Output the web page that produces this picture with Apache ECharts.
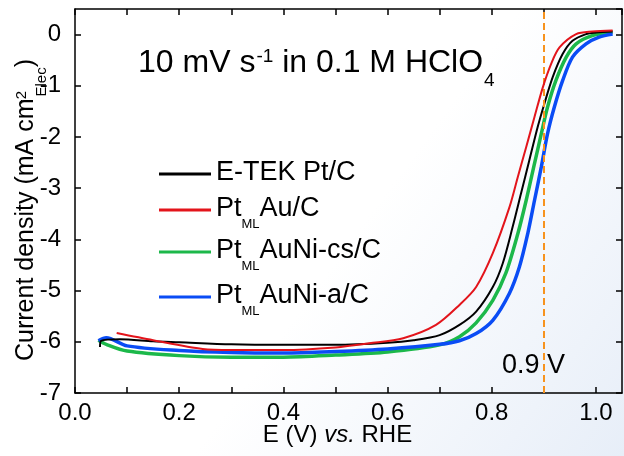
<!DOCTYPE html>
<html><head><meta charset="utf-8">
<script src="https://cdn.jsdelivr.net/npm/echarts@6/dist/echarts.min.js"></script>
<style>html,body{margin:0;padding:0;background:#fff}#c{width:624px;height:456px}</style>
</head><body><div id="c"></div>
<script>
const FONT = "'Liberation Sans', Arial, sans-serif";

// ---- data ----
const seriesNames = ['E-TEK Pt/C', 'PtMLAu/C', 'PtMLAuNi-cs/C', 'PtMLAuNi-a/C'];
const legendLabels = ['{a|E-TEK Pt/C}', '{a|Pt}{s|ML}{a|Au/C}', '{a|Pt}{s|ML}{a|AuNi-cs/C}', '{a|Pt}{s|ML}{a|AuNi-a/C}'];
const seriesColors = ['#000000', '#e3141b', '#1cb84a', '#0a4cf5'];

const etekX = [0.048, 0.05, 0.086, 0.15, 0.2, 0.3, 0.4, 0.5, 0.6, 0.65, 0.7, 0.738, 0.77, 0.802, 0.821, 0.84, 0.856, 0.872, 0.888, 0.901, 0.917, 0.936, 0.955, 0.981, 1.0, 1.032];
const etekY = [-6.10, -5.98, -5.95, -5.99, -6.01, -6.05, -6.06, -6.06, -6.02, -5.97, -5.87, -5.67, -5.41, -4.93, -4.47, -3.76, -3.11, -2.46, -1.81, -1.35, -0.83, -0.38, -0.12, 0.01, 0.04, 0.06];

const auX = [0.08, 0.15, 0.245, 0.3, 0.4, 0.5, 0.565, 0.63, 0.693, 0.738, 0.77, 0.802, 0.834, 0.85, 0.866, 0.882, 0.898, 0.914, 0.93, 0.962, 0.993, 1.032];
const auY = [-5.83, -5.97, -6.14, -6.16, -6.16, -6.11, -6.03, -5.93, -5.67, -5.28, -4.93, -4.27, -3.37, -2.78, -2.20, -1.61, -1.03, -0.57, -0.25, 0.01, 0.06, 0.08];

const csX = [0.045, 0.06, 0.1, 0.2, 0.3, 0.4, 0.5, 0.6, 0.7, 0.738, 0.77, 0.802, 0.827, 0.85, 0.866, 0.882, 0.895, 0.907, 0.923, 0.943, 0.962, 0.993, 1.032];
const csY = [-5.97, -6.05, -6.18, -6.27, -6.30, -6.30, -6.26, -6.20, -6.06, -5.90, -5.63, -5.19, -4.66, -3.89, -3.24, -2.52, -1.94, -1.42, -0.90, -0.44, -0.18, -0.02, 0.05];

const aX = [0.045, 0.06, 0.1, 0.2, 0.3, 0.4, 0.5, 0.6, 0.7, 0.738, 0.77, 0.802, 0.834, 0.853, 0.869, 0.882, 0.895, 0.907, 0.92, 0.936, 0.955, 0.981, 1.006, 1.032];
const aY = [-5.98, -5.92, -6.08, -6.17, -6.21, -6.22, -6.19, -6.14, -6.05, -5.98, -5.84, -5.58, -5.05, -4.54, -3.89, -3.24, -2.59, -1.94, -1.42, -0.90, -0.44, -0.18, -0.05, 0.01];

const refPotential = 0.9;
const refLabel = '0.9 V';

const pairs = (xs, ys) => xs.map((x, i) => [x, ys[i]]);
const seriesData = [pairs(etekX, etekY), pairs(auX, auY), pairs(csX, csY), pairs(aX, aY)];
const lineWidths = [2, 2, 3.5, 3.5];
const zs = [4, 5, 2, 3];

const chart = echarts.init(document.getElementById('c'), null, {renderer: 'canvas'});

const axisLine = {show: true, onZero: false, lineStyle: {color: '#000', width: 1.5}};
const tick = {show: true, inside: true, length: 6, lineStyle: {color: '#000', width: 1.5}};

const legendTops = [159, 195, 237, 282];

const series = seriesNames.map((n, i) => ({
  name: n, type: 'line', data: seriesData[i], showSymbol: false, symbol: 'none',
  smooth: 0.3,
  lineStyle: {color: seriesColors[i], width: lineWidths[i]}, itemStyle: {color: seriesColors[i]},
  z: zs[i], silent: true, animation: false
}));
series[0].markLine = {
  silent: true, symbol: 'none', animation: false,
  data: [{xAxis: refPotential}],
  lineStyle: {color: '#f7931e', type: [7, 4], width: 2},
  label: {show: false}
};
series[0].markPoint = {
  silent: true, animation: false, symbol: 'circle', symbolSize: 1,
  itemStyle: {color: 'rgba(0,0,0,0)'},
  data: [{coord: [0.88, -6.47]}],
  label: {show: true, position: 'inside', formatter: refLabel, fontSize: 27, color: '#000', fontFamily: FONT}
};

const option = {
  animation: false,
  backgroundColor: {type: 'linear', x: 0, y: 0, x2: 1, y2: 1, colorStops: [
    {offset: 0, color: '#ffffff'}, {offset: 0.55, color: '#ffffff'}, {offset: 1, color: '#e7eef8'}]},
  textStyle: {fontFamily: FONT},
  title: {
    text: '{a|10 mV s}{sup|-1}{a| in 0.1 M HClO}{sub|4}',
    left: 138, top: 47, padding: 0,
    textStyle: {fontWeight: 'normal', rich: {
      a: {fontSize: 32, fontWeight: 'normal', color: '#000', fontFamily: FONT, lineHeight: 40, verticalAlign: 'top'},
      sup: {fontSize: 19, fontWeight: 'normal', color: '#000', fontFamily: FONT, lineHeight: 20, verticalAlign: 'top', padding: [0, 0, 0, 1]},
      sub: {fontSize: 19, fontWeight: 'normal', color: '#000', fontFamily: FONT, lineHeight: 20, verticalAlign: 'top', padding: [24, 0, 0, 1]}
    }}
  },
  legend: seriesNames.map((n, i) => ({
    data: [n], left: 159, top: legendTops[i], padding: 0, itemGap: 0,
    icon: 'rect', itemWidth: 52, itemHeight: 3, selectedMode: false,
    formatter: () => legendLabels[i],
    textStyle: {rich: {
      a: {fontSize: 27, color: '#000', fontFamily: FONT, lineHeight: 30, verticalAlign: 'top'},
      s: {fontSize: 13, color: '#000', fontFamily: FONT, lineHeight: 13, verticalAlign: 'top', padding: [23, 0, 0, 0]}
    }}
  })),
  grid: {left: 75, right: 2, top: 9, bottom: 63, outerBoundsMode: 'none'},
  xAxis: [
    {type: 'value', min: 0, max: 1.05, interval: 0.1, position: 'bottom',
     axisLine, axisTick: tick, splitLine: {show: false},
     axisLabel: {fontSize: 24, color: '#000', margin: 8, fontFamily: FONT, showMaxLabel: false, showMinLabel: true,
       formatter: v => (Math.round(v * 10) % 2 === 0 ? v.toFixed(1) : '')},
     name: '{a|E (V) }{i|vs.}{a| RHE}', nameLocation: 'middle', nameGap: 30, nameMoveOverlap: false,
     nameTextStyle: {padding: [0, 22, 0, 0], rich: {
       a: {fontSize: 24, color: '#000', fontFamily: FONT},
       i: {fontSize: 24, color: '#000', fontFamily: FONT, fontStyle: 'italic'}}}
    },
    {type: 'value', min: 0, max: 1.05, interval: 0.1, position: 'top',
     axisLine, axisTick: tick, splitLine: {show: false}, axisLabel: {show: false}}
  ],
  yAxis: [
    {type: 'value', min: -7, max: 0.5, interval: 1, position: 'left',
     axisLine, axisTick: tick, splitLine: {show: false},
     axisLabel: {fontSize: 24, color: '#000', margin: 14, fontFamily: FONT, showMaxLabel: false},
     name: '{a|Current density (mA cm}{sup|-2}{sub|Elec}{a|)}', nameLocation: 'middle', nameRotate: 90, nameGap: 31, nameMoveOverlap: false,
     nameTextStyle: {padding: [0, 18, 0, 0], rich: {
       a: {fontSize: 25, color: '#000', fontFamily: FONT, lineHeight: 30, verticalAlign: 'top'},
       sup: {fontSize: 15, color: '#000', fontFamily: FONT, lineHeight: 16, verticalAlign: 'top', width: 2},
       sub: {fontSize: 15, color: '#000', fontFamily: FONT, lineHeight: 16, verticalAlign: 'top', padding: [20, 0, 0, 0]}
     }}
    },
    {type: 'value', min: -7, max: 0.5, interval: 1, position: 'right',
     axisLine, axisTick: tick, splitLine: {show: false}, axisLabel: {show: false}}
  ],
  series
};
chart.setOption(option);
</script></body></html>
